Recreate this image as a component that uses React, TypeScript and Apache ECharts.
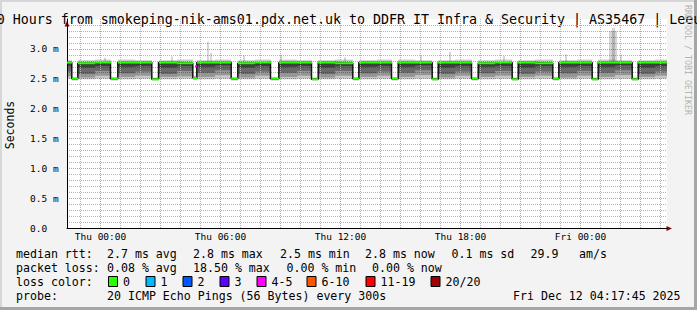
import { useEffect, useRef } from "react";
import * as echarts from "echarts";

// ---------- data (hours relative to Thu 00:00, values in ms) ----------
const START_H = -1.675; // Wed ~22:20
const END_H = 28.325; // Fri ~04:20

const xTickHours = [0, 6, 12, 18, 24];
const xTickLabels = ["Thu 00:00", "Thu 06:00", "Thu 12:00", "Thu 18:00", "Fri 00:00"];
const yTickValues = [0, 0.5, 1, 1.5, 2, 2.5, 3];
const yTickLabels = ["0.0", "0.5 m", "1.0 m", "1.5 m", "2.0 m", "2.5 m", "3.0 m"];

const segStart = [
  -1.675, -1.435, -1.135, -0.3, 0.5, 0.865, 1.7, 2.565, 2.9, 3.8, 4.615, 4.815, 5.7,
  6.535, 6.865, 7.7, 8.5, 8.915, 9.8, 10.55, 10.885, 11.7, 12.615, 12.915, 13.8,
  14.55, 14.885, 15.7, 16.585, 16.885, 17.7, 18.55, 18.885, 19.7, 20.585, 20.885,
  21.7, 22.615, 22.915, 23.8, 24.585, 24.885, 25.7, 26.585, 26.885, 27.7,
];
const segMedian = [
  2.77, 2.5, 2.76, 2.77, 2.5, 2.77, 2.77, 2.49, 2.77, 2.76, 2.51, 2.77, 2.77,
  2.5, 2.76, 2.77, 2.5, 2.77, 2.77, 2.49, 2.77, 2.76, 2.5, 2.77, 2.77,
  2.5, 2.77, 2.77, 2.49, 2.77, 2.77, 2.5, 2.76, 2.77, 2.49, 2.77,
  2.76, 2.5, 2.77, 2.77, 2.49, 2.77, 2.77, 2.49, 2.77, 2.77,
];
const smokeMin = [
  2.5, 2.47, 2.49, 2.5, 2.47, 2.49, 2.5, 2.47, 2.49, 2.5, 2.48, 2.49, 2.5,
  2.47, 2.49, 2.5, 2.47, 2.49, 2.5, 2.47, 2.49, 2.5, 2.47, 2.49, 2.5,
  2.47, 2.49, 2.5, 2.47, 2.49, 2.5, 2.47, 2.49, 2.5, 2.47, 2.49,
  2.5, 2.47, 2.49, 2.5, 2.47, 2.49, 2.5, 2.47, 2.49, 2.5,
];
const smokeP10 = [
  2.54, 2.48, 2.52, 2.55, 2.48, 2.53, 2.55, 2.48, 2.53, 2.54, 2.49, 2.53, 2.56,
  2.48, 2.52, 2.55, 2.48, 2.53, 2.55, 2.48, 2.52, 2.55, 2.48, 2.53, 2.55,
  2.48, 2.53, 2.56, 2.48, 2.52, 2.55, 2.48, 2.53, 2.55, 2.48, 2.53,
  2.55, 2.48, 2.52, 2.55, 2.48, 2.53, 2.56, 2.48, 2.53, 2.55,
];
const smokeQ1 = [
  2.62, 2.49, 2.58, 2.63, 2.49, 2.59, 2.62, 2.49, 2.58, 2.63, 2.5, 2.6, 2.64,
  2.49, 2.58, 2.62, 2.49, 2.6, 2.63, 2.49, 2.58, 2.63, 2.49, 2.59, 2.62,
  2.49, 2.6, 2.64, 2.49, 2.58, 2.62, 2.49, 2.59, 2.63, 2.49, 2.58,
  2.62, 2.49, 2.59, 2.63, 2.49, 2.6, 2.64, 2.49, 2.58, 2.62,
];
const smokeP40 = [
  2.71, 2.495, 2.69, 2.71, 2.495, 2.7, 2.71, 2.49, 2.69, 2.71, 2.505, 2.7, 2.72,
  2.495, 2.69, 2.71, 2.495, 2.7, 2.71, 2.49, 2.69, 2.71, 2.495, 2.7, 2.71,
  2.495, 2.7, 2.72, 2.49, 2.69, 2.71, 2.495, 2.7, 2.71, 2.49, 2.69,
  2.71, 2.495, 2.7, 2.71, 2.49, 2.7, 2.72, 2.49, 2.69, 2.71,
];
const smokeQ3 = [
  2.78, 2.51, 2.775, 2.78, 2.51, 2.78, 2.78, 2.505, 2.78, 2.775, 2.52, 2.78, 2.78,
  2.51, 2.775, 2.78, 2.51, 2.78, 2.78, 2.505, 2.78, 2.775, 2.51, 2.78, 2.78,
  2.51, 2.78, 2.78, 2.505, 2.78, 2.78, 2.51, 2.775, 2.78, 2.505, 2.78,
  2.775, 2.51, 2.78, 2.78, 2.505, 2.78, 2.78, 2.505, 2.78, 2.78,
];
const smokeMax = [
  2.81, 2.53, 2.81, 2.82, 2.53, 2.82, 2.81, 2.52, 2.81, 2.82, 2.55, 2.81, 2.82,
  2.53, 2.81, 2.82, 2.53, 2.82, 2.81, 2.52, 2.81, 2.82, 2.53, 2.81, 2.82,
  2.53, 2.82, 2.81, 2.52, 2.81, 2.82, 2.53, 2.81, 2.82, 2.52, 2.81,
  2.82, 2.53, 2.81, 2.82, 2.52, 2.82, 2.81, 2.52, 2.81, 2.82,
];

// light smoke outliers (start h, end h, top ms)
const spikeStart = [0.15, 3.5, 5.3, 5.48, 7.1, 8.95, 12.15, 15.95, 17.4, 20.1, 23.2, 25.42, 25.55, 25.95];
const spikeEnd = [0.25, 3.6, 5.42, 5.58, 7.2, 9.05, 12.25, 16.05, 17.5, 20.2, 23.3, 25.82, 25.7, 26.05];
const spikeTop = [2.85, 2.87, 3.12, 2.93, 2.89, 2.9, 2.86, 2.88, 2.95, 2.88, 2.91, 3.3, 3.35, 2.9];
const SPIKE_BASE = 2.79;

// median points with packet loss
const lossTime = [4.72, 4.8, 25.5];
const lossValue = [2.71, 2.78, 2.77];
const lossCount = [4, 1, 1];

// loss colour legend
const lossLabels = ["0", "1", "2", "3", "4-5", "6-10", "11-19", "20/20"];
const lossUpper = [0, 1, 2, 3, 5, 10, 19, 20];
const lossColors = ["#26ff00", "#00b8ff", "#0059ff", "#5e00ff", "#ff00ff", "#ff5500", "#ff0000", "#a00000"];

const titleText =
  "30 Hours from smokeping-nik-ams01.pdx.net.uk to DDFR IT Infra & Security | AS35467 | Leeuwarden";
const rttStats = ["2.7 ms avg", "2.8 ms max", "2.5 ms min", "2.8 ms now", "0.1 ms sd", "29.9", "am/s"];
const pktStats = ["0.08 % avg", "18.50 % max", "0.00 % min", "0.00 % now"];
const probeText = "20 ICMP Echo Pings (56 Bytes) every 300s";
const dateText = "Fri Dec 12 04:17:45 2025";

// ---------- layout ----------
const MONO = '"DejaVu Sans Mono", monospace';
const rttX = [107, 193, 280, 365, 451.5, 530.5, 579];
const pktX = [107, 193, 286.5, 372];
const swatchX = [108, 145.5, 182.5, 219.5, 256.5, 306.5, 365.5, 430.5];
const rowY = [254.3, 268.3, 281.7, 296];
const RED_GRID = "#f08a8a";
const GRAY_GRID = "#b4b4b4";

function lossColor(n: number) {
  for (let i = 0; i < lossUpper.length; i++) if (n <= lossUpper[i]) return lossColors[i];
  return lossColors[lossColors.length - 1];
}

export default function App() {
  const ref = useRef<HTMLDivElement>(null);
  useEffect(() => {
    const chart = echarts.init(ref.current!, null, { renderer: "svg" });

    const segEnd = segStart.map((_, i) => (i + 1 < segStart.length ? segStart[i + 1] : END_H));
    const band = (lo: number[], hi: number[]) => segStart.map((s, i) => [s, segEnd[i], lo[i], hi[i]]);

    const rectItem = (fill: string) => (_p: any, api: any) => {
      const a = api.coord([api.value(0), api.value(3)]);
      const b = api.coord([api.value(1), api.value(2)]);
      const x0 = Math.round(a[0]);
      const x1 = Math.round(b[0]);
      return {
        type: "rect",
        shape: { x: x0, y: a[1], width: Math.max(1, x1 - x0), height: b[1] - a[1] },
        style: { fill },
      };
    };

    const smokeSeries = (name: string, data: any[], fill: string, z: number) => ({
      type: "custom",
      name,
      data,
      z,
      silent: true,
      clip: true,
      encode: { x: [0, 1], y: [2, 3] },
      renderItem: rectItem(fill),
    });

    const minorHours: number[] = [];
    const majorHours: number[] = [];
    for (let h = -1; h <= 28; h++) (h % 3 === 0 ? majorHours : minorHours).push(h);

    const medianLine = segStart.map((s, i) => [s, segMedian[i]]);
    medianLine.push([END_H, segMedian[segMedian.length - 1]]);

    const text = (x: number, y: number, t: string, size: number, extra: any = {}, rotation = 0) => ({
      type: "text",
      x,
      y,
      rotation,
      silent: true,
      style: {
        text: t,
        font: `${size}px ${MONO}`,
        fill: "#000",
        verticalAlign: "middle",
        ...extra,
      },
    });

    const graphics: any[] = [
      { type: "rect", shape: { x: 0, y: 0, width: 697, height: 2 }, style: { fill: "#d6d6d6" }, silent: true },
      { type: "rect", shape: { x: 0, y: 0, width: 2, height: 310 }, style: { fill: "#d6d6d6" }, silent: true },
      { type: "rect", shape: { x: 694, y: 0, width: 3, height: 310 }, style: { fill: "#a6a6a6" }, silent: true },
      { type: "rect", shape: { x: 0, y: 307, width: 697, height: 3 }, style: { fill: "#a6a6a6" }, silent: true },
      text(-11.3, 19.5, titleText, 13.3),
      text(10, 125, "Seconds", 11.5, { align: "center" }, Math.PI / 2),
      text(16, rowY[0], "median rtt:", 11.6),
      text(16, rowY[1], "packet loss:", 11.6),
      text(16, rowY[2], "loss color:", 11.6),
      text(16, rowY[3], "probe:", 11.6),
      text(107, rowY[3], probeText, 11.6),
      text(513, rowY[3], dateText, 11.6),
      text(688, 60, "RRDTOOL / TOBI OETIKER", 8.3, { fill: "#b4b4b4", align: "center" }, -Math.PI / 2),
      // axis arrows
      { type: "polygon", shape: { points: [[67, 21], [64.5, 26.5], [69.5, 26.5]] }, style: { fill: "#8b0000" }, silent: true },
      { type: "polygon", shape: { points: [[672, 228.5], [666.5, 226], [666.5, 231]] }, style: { fill: "#8b0000" }, silent: true },
    ];
    rttStats.forEach((t, i) => graphics.push(text(rttX[i], rowY[0], t, 11.6)));
    pktStats.forEach((t, i) => graphics.push(text(pktX[i], rowY[1], t, 11.6)));
    lossLabels.forEach((t, i) => {
      graphics.push({
        type: "rect",
        shape: { x: swatchX[i] + 0.5, y: 276.5, width: 9, height: 10 },
        style: { fill: lossColors[i], stroke: "#000", lineWidth: 1 },
        silent: true,
      });
      graphics.push(text(swatchX[i] + 15, rowY[2], t, 11.6));
    });

    const gridSeries = (name: string, hrs: number[], color: string) => ({
      type: "line",
      name,
      data: [],
      z: 1,
      silent: true,
      markLine: {
        silent: true,
        symbol: ["none", "none"],
        label: { show: false },
        animation: false,
        emphasis: { disabled: true },
        lineStyle: { color, width: 1, type: [1, 1], opacity: 1 },
        data: hrs.map((h) => ({ xAxis: h })),
      },
    });

    chart.setOption({
      animation: false,
      backgroundColor: "#f3f3f3",
      textStyle: { fontFamily: MONO },
      grid: {
        left: 67,
        top: 19,
        width: 600,
        height: 209,
        show: true,
        backgroundColor: "#ffffff",
        borderWidth: 0,
      },
      xAxis: {
        type: "value",
        min: START_H,
        max: END_H,
        axisLine: { show: true, onZero: false, lineStyle: { color: "#000", width: 1 } },
        axisTick: { show: false },
        splitLine: { show: false },
        axisLabel: {
          customValues: xTickHours,
          margin: 3,
          fontFamily: MONO,
          fontSize: 9.5,
          color: "#000",
          formatter: (v: number) => {
            const i = xTickHours.findIndex((h) => Math.abs(h - v) < 1e-6);
            return i >= 0 ? xTickLabels[i] : "";
          },
        },
      },
      yAxis: {
        type: "value",
        min: 0,
        max: 3.5,
        interval: 0.5,
        axisLine: { show: true, onZero: false, lineStyle: { color: "#000", width: 1 } },
        axisTick: { show: false },
        axisLabel: {
          align: "left",
          margin: 37,
          fontFamily: MONO,
          fontSize: 9.5,
          color: "#000",
          formatter: (v: number) => {
            const i = yTickValues.findIndex((t) => Math.abs(t - v) < 1e-6);
            return i >= 0 ? yTickLabels[i] : "";
          },
        },
        splitLine: { show: true, showMaxLine: false, lineStyle: { color: RED_GRID, width: 1, type: [1, 1] } },
        minorTick: { show: false, splitNumber: 5 },
        minorSplitLine: { show: true, lineStyle: { color: GRAY_GRID, width: 1, type: [1, 1] } },
      },
      graphic: graphics,
      series: [
        gridSeries("vgrid-minor", minorHours, GRAY_GRID),
        gridSeries("vgrid-major", majorHours, RED_GRID),
        smokeSeries("smoke-all", band(smokeMin, smokeMax), "rgba(0,0,0,0.22)", 2),
        smokeSeries("smoke-10", band(smokeP10, smokeQ3), "rgba(0,0,0,0.25)", 2),
        smokeSeries("smoke-25", band(smokeQ1, smokeQ3), "rgba(0,0,0,0.3)", 2),
        smokeSeries("smoke-40", band(smokeP40, segMedian), "rgba(0,0,0,0.4)", 2),
        {
          type: "custom",
          name: "spikes",
          data: spikeStart.map((s, i) => [s, spikeEnd[i], SPIKE_BASE, spikeTop[i]]),
          encode: { x: [0, 1], y: [2, 3] },
          z: 2,
          silent: true,
          clip: true,
          renderItem: rectItem("rgba(0,0,0,0.16)"),
        },
        {
          type: "line",
          name: "median",
          data: medianLine,
          step: "end",
          showSymbol: false,
          symbol: "none",
          z: 3,
          silent: true,
          lineStyle: { color: "#141414", width: 1.5 },
        },
        {
          type: "custom",
          name: "median-loss0",
          data: segStart.map((s, i) => [s, segEnd[i], segMedian[i]]),
          encode: { x: [0, 1], y: 2 },
          z: 4,
          silent: true,
          clip: true,
          renderItem: (_p: any, api: any) => {
            const a = api.coord([api.value(0), api.value(2)]);
            const b = api.coord([api.value(1), api.value(2)]);
            return {
              type: "line",
              shape: { x1: Math.round(a[0]), y1: a[1], x2: Math.round(b[0]), y2: b[1] },
              style: { stroke: lossColors[0], lineWidth: 2 },
            };
          },
        },
        {
          type: "custom",
          name: "loss",
          data: lossTime.map((t, i) => [t, lossValue[i], lossCount[i]]),
          encode: { x: 0, y: 1 },
          z: 5,
          silent: true,
          renderItem: (_p: any, api: any) => {
            const t = api.value(0);
            const a = api.coord([t, api.value(1)]);
            const b = api.coord([t + 0.0833, api.value(1)]);
            return {
              type: "line",
              shape: { x1: Math.round(a[0]), y1: a[1], x2: Math.round(b[0]), y2: b[1] },
              style: { stroke: lossColor(api.value(2)), lineWidth: 2 },
            };
          },
        },
      ],
    });
    return () => chart.dispose();
  }, []);
  return <div ref={ref} style={{ position: "absolute", left: 0, top: 0, width: 697, height: 310 }} />;
}
